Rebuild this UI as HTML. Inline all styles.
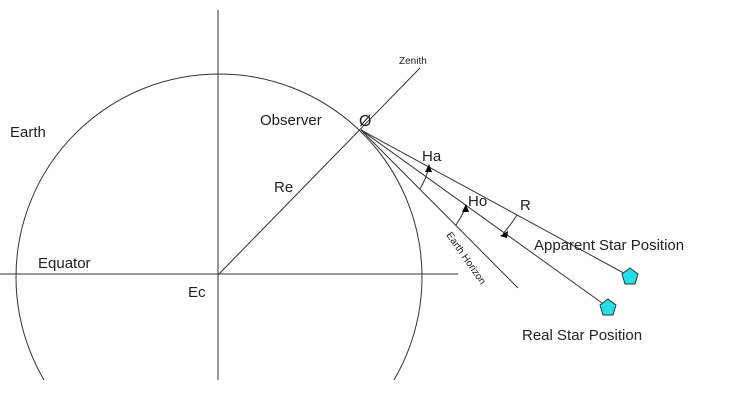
<!DOCTYPE html>
<html><head><meta charset="utf-8"><style>
html,body{margin:0;padding:0;background:#fff;width:731px;height:411px;overflow:hidden;}
svg{display:block;font-family:"Liberation Sans",Arial,sans-serif;}
</style></head><body>
<svg width="731" height="411" viewBox="0 0 731 411" xmlns="http://www.w3.org/2000/svg">
<defs><clipPath id="c"><rect x="0" y="0" width="731" height="380"/></clipPath></defs>
<g stroke="#333" stroke-width="1" fill="none">
<circle cx="219" cy="277" r="203" clip-path="url(#c)"/>
<line x1="218" y1="10" x2="218" y2="380"/>
<line x1="0" y1="274" x2="458" y2="274"/>
<line x1="218" y1="275" x2="420" y2="68"/>
<line x1="361" y1="130" x2="631" y2="277"/>
<line x1="361" y1="130" x2="609" y2="308"/>
<line x1="361" y1="130" x2="518" y2="288"/>
<path d="M420 189 A83 83 0 0 0 429 167"/>
<path d="M456 225 A135 135 0 0 0 466 207"/>
<path d="M517 215 A177 177 0 0 1 503 234"/>
</g>
<g fill="#000">
<polygon points="429,164 425,172 432,172"/>
<polygon points="466,204 462,212 469,212"/>
<polygon points="500,236 508,231 507,238"/>
</g>
<g fill="#22e0e8" stroke="#333" stroke-width="1">
<polygon points="630,268 638,274 635,284 625,284 622,274"/>
<polygon points="608,299 616,305 613,315 603,315 600,305"/>
</g>
<g fill="#222" font-size="15">
<text x="10" y="137">Earth</text>
<text x="260" y="125">Observer</text>
<text x="359" y="126" font-size="16">Ø</text>
<text x="399" y="64" font-size="10">Zenith</text>
<text x="422" y="161">Ha</text>
<text x="274" y="192">Re</text>
<text x="468" y="206">Ho</text>
<text x="520" y="210">R</text>
<text x="534" y="250">Apparent Star Position</text>
<text x="38" y="268">Equator</text>
<text x="188" y="297">Ec</text>
<text x="522" y="340">Real Star Position</text>
<text x="0" y="0" font-size="10" transform="translate(446,235) rotate(55)">Earth Horizon</text>
</g>
</svg>
</body></html>
